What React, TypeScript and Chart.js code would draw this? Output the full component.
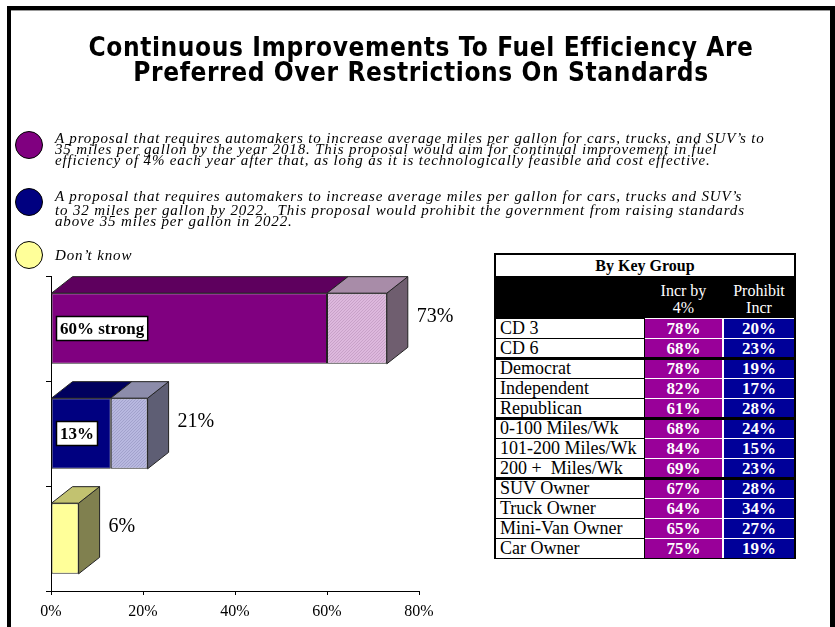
import React, { useEffect, useRef } from "react";
import { Chart, registerables } from "chart.js";

Chart.register(...registerables);

// ---------- Chart data ----------
const categories = ["Increase 4% each year", "Prohibit raising above 35 mpg", "Don’t know"];
const strongPct: (number | null)[] = [60, 13, null];
const totalPct = [73, 21, 6];
const strongLabels: (string | null)[] = ["60% strong", "13%", null];
const xTickMax = 80;
const xTickStep = 20;

// ---------- Table data ----------
const tableTitle = "By Key Group";
const colHeaders = [["Incr by", "4%"], ["Prohibit", "Incr"]];
const groupLabels = [
  "CD 3",
  "CD 6",
  "Democrat",
  "Independent",
  "Republican",
  "0-100 Miles/Wk",
  "101-200 Miles/Wk",
  "200 +  Miles/Wk",
  "SUV Owner",
  "Truck Owner",
  "Mini-Van Owner",
  "Car Owner",
];
const incrBy4 = [78, 68, 78, 82, 61, 68, 84, 69, 67, 64, 65, 75];
const prohibitIncr = [20, 23, 19, 17, 28, 24, 15, 23, 28, 34, 27, 19];
const groupStarts = [2, 5, 8];

// ---------- Legend text ----------
const legendItems = [
  {
    color: "#800080",
    lines: [
      "A proposal that requires automakers to increase average miles per gallon for cars, trucks, and SUV’s to",
      "35 miles per gallon by the year 2018. This proposal would aim for continual improvement in fuel",
      "efficiency of 4% each year after that, as long as it is technologically feasible and cost effective.",
    ],
  },
  {
    color: "#000080",
    lines: [
      "A proposal that requires automakers to increase average miles per gallon for cars, trucks and SUV’s",
      "to 32 miles per gallon by 2022.  This proposal would prohibit the government from raising standards",
      "above 35 miles per gallon in 2022.",
    ],
  },
  { color: "#FFFF99", lines: ["Don’t know"] },
];
const titleLines = [
  "Continuous Improvements To Fuel Efficiency Are",
  "Preferred Over Restrictions On Standards",
];

// ---------- Styles ----------
const frontColors = [
  ["#800080", "#000080", "#FFFF99"],
  ["#DDB8DD", "#B8B8E0", "#FFFF99"],
];
const textureDots = [null, ["#C8A2C8", "#A2A2CC"]];
const topColors = [
  ["#5E005E", "#00005E", "#C2C270"],
  ["#A88CA8", "#8C8CAA", "#C2C270"],
];
const sideColors = [
  ["#5E005E", "#00005E", "#80804F"],
  ["#6F5E6F", "#5E5E74", "#80804F"],
];
const DX = 21;
const DY = 16.5;
const SERIF = '"Liberation Serif", "Times New Roman", serif';
const CANVAS_H = 640;

const restPct = totalPct.map((t, i) => t - (strongPct[i] ?? 0));

function makePattern(base: string, dot: string): CanvasPattern | string {
  const c = document.createElement("canvas");
  c.width = 3;
  c.height = 3;
  const g = c.getContext("2d");
  if (!g) return base;
  g.fillStyle = base;
  g.fillRect(0, 0, 3, 3);
  g.fillStyle = dot;
  g.fillRect(0, 0, 1, 1);
  g.fillRect(2, 1, 1, 1);
  g.fillRect(1, 2, 1, 1);
  const p = g.createPattern(c, "repeat");
  return p || base;
}

function poly(ctx: CanvasRenderingContext2D, pts: number[][], fill: string) {
  ctx.beginPath();
  ctx.moveTo(pts[0][0], pts[0][1]);
  for (let i = 1; i < pts.length; i++) ctx.lineTo(pts[i][0], pts[i][1]);
  ctx.closePath();
  ctx.fillStyle = fill;
  ctx.fill();
  ctx.lineWidth = 1;
  ctx.strokeStyle = "#222";
  ctx.stroke();
}

function segmentsFor(chart: any, j: number) {
  const segs: any[] = [];
  chart.data.datasets.forEach((ds: any, i: number) => {
    const v = ds.data[j];
    if (v == null) return;
    const el = chart.getDatasetMeta(i).data[j];
    if (!el) return;
    const p = el.getProps(["x", "y", "base", "height"], true);
    if (!(Math.abs(p.x - p.base) > 0)) return;
    segs.push({ ...p, ds: i });
  });
  segs.sort((a, b) => Math.min(a.x, a.base) - Math.min(b.x, b.base));
  return segs;
}

const bar3d = {
  id: "bar3d",
  beforeDatasetsDraw(chart: any) {
    const ctx = chart.ctx as CanvasRenderingContext2D;
    const n = chart.data.labels.length;
    ctx.save();
    for (let j = 0; j < n; j++) {
      const segs = segmentsFor(chart, j);
      segs.forEach((s, k) => {
        const x0 = Math.min(s.x, s.base);
        const x1 = Math.max(s.x, s.base);
        const y0 = s.y - s.height / 2;
        const y1 = s.y + s.height / 2;
        if (k === segs.length - 1) {
          poly(ctx, [[x1, y0], [x1 + DX, y0 - DY], [x1 + DX, y1 - DY], [x1, y1]], sideColors[s.ds][j]);
        }
        poly(ctx, [[x0, y0], [x0 + DX, y0 - DY], [x1 + DX, y0 - DY], [x1, y0]], topColors[s.ds][j]);
      });
    }
    ctx.restore();
  },
  afterDatasetsDraw(chart: any) {
    const ctx = chart.ctx as CanvasRenderingContext2D;
    const n = chart.data.labels.length;
    ctx.save();
    for (let j = 0; j < n; j++) {
      const segs = segmentsFor(chart, j);
      if (!segs.length) continue;
      const endX = Math.max(...segs.map((s) => Math.max(s.x, s.base)));
      const cy = segs[0].y;
      ctx.font = `20px ${SERIF}`;
      ctx.fillStyle = "#000";
      ctx.textAlign = "left";
      ctx.textBaseline = "middle";
      ctx.fillText(`${totalPct[j]}%`, endX + DX + 9, cy - 12);

      const lbl = strongLabels[j];
      if (lbl) {
        const baseX = Math.min(segs[0].x, segs[0].base);
        ctx.font = `bold 17px ${SERIF}`;
        const w = ctx.measureText(lbl).width;
        const bx = baseX + 5;
        const bh = 24;
        const bw = w + 7;
        ctx.fillStyle = "#fff";
        ctx.fillRect(bx, cy - bh / 2, bw, bh);
        ctx.lineWidth = 1.5;
        ctx.strokeStyle = "#000";
        ctx.strokeRect(bx, cy - bh / 2, bw, bh);
        ctx.fillStyle = "#000";
        ctx.textAlign = "left";
        ctx.fillText(lbl, bx + 3.5, cy + 1);
      }
    }
    ctx.restore();
  },
};

function ChartCanvas() {
  const ref = useRef<HTMLCanvasElement | null>(null);
  useEffect(() => {
    if (!ref.current) return;
    const restFill = frontColors[1].map((c, i) =>
      textureDots[1] && textureDots[1][i] ? makePattern(c, textureDots[1][i] as string) : c
    );
    const chart = new Chart(ref.current, {
      type: "bar",
      data: {
        labels: categories,
        datasets: [
          {
            label: "Strong",
            data: strongPct as any,
            backgroundColor: frontColors[0],
            borderColor: "#222",
            borderWidth: 1,
            borderSkipped: false,
            categoryPercentage: 1,
            barPercentage: 0.673,
          },
          {
            label: "Total",
            data: restPct,
            backgroundColor: restFill as any,
            borderColor: "#222",
            borderWidth: 1,
            borderSkipped: false,
            categoryPercentage: 1,
            barPercentage: 0.673,
          },
        ],
      },
      options: {
        indexAxis: "y",
        responsive: false,
        animation: false,
        layout: { padding: { left: 46, right: 416, top: 276, bottom: CANVAS_H - 591 - 37.2 } },
        plugins: {
          legend: { display: false },
          tooltip: { enabled: false },
        },
        scales: {
          x: {
            stacked: true,
            min: 0,
            max: xTickMax,
            ticks: {
              stepSize: xTickStep,
              callback: (v: any) => `${v}%`,
              color: "#000",
              font: { family: SERIF, size: 16 },
              padding: 7,
              maxRotation: 0,
            },
            grid: { drawOnChartArea: false, drawTicks: true, tickLength: 4, color: "#000" },
            border: { color: "#000", width: 1 },
          },
          y: {
            stacked: true,
            ticks: { display: false },
            grid: { drawOnChartArea: false, drawTicks: true, tickLength: 5, color: "#000", offset: true },
            border: { color: "#000", width: 1 },
          },
        },
      } as any,
      plugins: [bar3d],
    });
    return () => chart.destroy();
  }, []);
  return (
    <canvas
      ref={ref}
      width={835}
      height={CANVAS_H}
      style={{ position: "absolute", left: 0, top: 0, width: 835, height: CANVAS_H }}
    />
  );
}

const legendBaselines = [
  [143, 154, 165],
  [201, 215.5, 226.5],
  [260.7],
];
const legendCircleCenters = [145, 201.5, 254.5];

export default function App() {
  const abs = (o: React.CSSProperties): React.CSSProperties => ({ position: "absolute", ...o });
  const rowTop = 318;
  const rowH = 20;
  return (
    <div style={abs({ left: 0, top: 0, width: 835, height: 627, overflow: "hidden", background: "#fff" })}>
      <ChartCanvas />
      {/* frame */}
      <div style={abs({ left: 7, top: 6, width: 828, height: 4, background: "#000" })} />
      <div style={abs({ left: 11, top: 10, width: 819, height: 1, background: "#999" })} />
      <div style={abs({ left: 7, top: 6, width: 4, height: 621, background: "#000" })} />
      <div style={abs({ left: 830, top: 6, width: 5, height: 621, background: "#000" })} />

      {/* title */}
      <div
        style={abs({
          left: 7,
          top: 34.5,
          width: 828,
          textAlign: "center",
          fontFamily: '"DejaVu Sans Condensed", "DejaVu Sans", sans-serif',
          fontStretch: "condensed",
          fontWeight: "bold",
          fontSize: 26,
          letterSpacing: "0.6px",
          lineHeight: "25px",
          color: "#000",
          whiteSpace: "nowrap",
        })}
      >
        {titleLines.map((t, i) => (
          <div key={i}>{t}</div>
        ))}
      </div>

      {/* legend */}
      {legendItems.map((item, i) => (
        <React.Fragment key={i}>
          <div
            style={abs({
              left: 15,
              top: legendCircleCenters[i] - 14,
              width: 26,
              height: 26,
              borderRadius: "50%",
              border: "1px solid #000",
              background: item.color,
            })}
          />
          {item.lines.map((ln, k) => (
            <div
              key={k}
              style={abs({
                left: 55,
                top: legendBaselines[i][k] - 12.4,
                fontFamily: SERIF,
                fontStyle: "italic",
                fontSize: 15,
                letterSpacing: "0.85px",
                lineHeight: "15px",
                whiteSpace: "pre",
                color: "#000",
              })}
            >
              {ln}
            </div>
          ))}
        </React.Fragment>
      ))}

      {/* table */}
      <div style={abs({ left: 494, top: 253, width: 302, height: 306, background: "#000" })} />
      <div
        style={abs({
          left: 496,
          top: 255,
          width: 298,
          height: 21,
          background: "#fff",
          textAlign: "center",
          fontFamily: SERIF,
          fontWeight: "bold",
          fontSize: 16,
          lineHeight: "21px",
          color: "#000",
        })}
      >
        {tableTitle}
      </div>
      {colHeaders.map((h, c) => (
        <div
          key={c}
          style={abs({
            left: c === 0 ? 645 : 724,
            top: 283,
            width: c === 0 ? 77 : 70,
            textAlign: "center",
            fontFamily: SERIF,
            fontSize: 16,
            lineHeight: "16.6px",
            color: "#fff",
          })}
        >
          {h.map((t, k) => (
            <div key={k}>{t}</div>
          ))}
        </div>
      ))}
      <div style={abs({ left: 645, top: rowTop, width: 149, height: rowH * groupLabels.length, background: "#fff" })} />
      {groupLabels.map((g, i) => {
        const y = rowTop + i * rowH;
        return (
          <React.Fragment key={i}>
            <div
              style={abs({
                left: 496,
                top: y + 1,
                width: 148,
                height: 19,
                background: "#fff",
                paddingLeft: 4,
                boxSizing: "border-box",
                fontFamily: SERIF,
                fontSize: 18,
                lineHeight: "19px",
                whiteSpace: "pre",
                color: "#000",
              })}
            >
              {g}
            </div>
            <div
              style={abs({
                left: 645,
                top: y + 1,
                width: 77,
                height: 19,
                background: "#990099",
                textAlign: "center",
                fontFamily: SERIF,
                fontWeight: "bold",
                fontSize: 17,
                lineHeight: "19px",
                color: "#fff",
              })}
            >
              {incrBy4[i]}%
            </div>
            <div
              style={abs({
                left: 724,
                top: y + 1,
                width: 70,
                height: 19,
                background: "#000099",
                textAlign: "center",
                fontFamily: SERIF,
                fontWeight: "bold",
                fontSize: 17,
                lineHeight: "19px",
                color: "#fff",
              })}
            >
              {prohibitIncr[i]}%
            </div>
          </React.Fragment>
        );
      })}
      {groupStarts.map((s, i) => (
        <div key={i} style={abs({ left: 494, top: rowTop + s * rowH - 1, width: 302, height: 3, background: "#000" })} />
      ))}
    </div>
  );
}
